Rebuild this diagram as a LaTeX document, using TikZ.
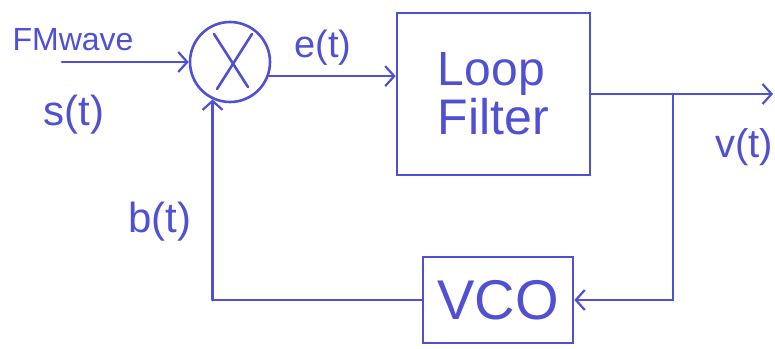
\documentclass[tikz,border=0pt]{standalone}
\usepackage{fontspec}
\setmainfont{Liberation Sans}
\usetikzlibrary{arrows.meta}
\definecolor{pen}{RGB}{80,80,210}
\tikzset{
  wire/.style={draw=pen, line width=2.6pt, line cap=round, line join=round},
  arr/.style={wire, -{Straight Barb[length=9pt, width=20pt, line width=2.2pt]}},
  blk/.style={draw=pen, line width=2.6pt, rectangle, inner sep=0pt, text=pen},
  lbl/.style={text=pen, inner sep=0pt},
}
\begin{document}
\begin{tikzpicture}[x=1pt, y=-1pt]
\useasboundingbox (0,0) rectangle (775,348);
% blocks
\node[draw=pen, line width=2.6pt, circle, minimum size=80pt, inner sep=0pt] (mult) at (230,62) {};
\draw[wire] ([shift={(-16,-28)}]mult.center) -- ([shift={(18,25)}]mult.center)
            ([shift={(22,-28)}]mult.center) -- ([shift={(-13,27)}]mult.center);
\node[blk, minimum width=193pt, minimum height=162pt, align=left] (lf) at (493.5,94)
  {\fontsize{48}{56}\selectfont Loop\\[2pt]\fontsize{50}{56}\selectfont Filter};
\node[blk, minimum width=150pt, minimum height=86pt] (vco) at (498,300)
  {\fontsize{56}{56}\selectfont VCO};
% coordinates
\coordinate (in) at (62,62);
\coordinate (out) at (773,94);
\coordinate (j) at (673,94);
\coordinate (cr) at (673,300);
\coordinate (bl) at (mult.-115 |- vco.west);
% connectors
\draw[arr] (in) -- (mult.west);
\draw[arr] (mult.-20) -- (mult.-20 -| lf.west);
\draw[arr] (lf.east) -- (out);
\draw[wire] (j) -- (cr);
\draw[arr] (cr) -- (vco.east);
\draw[wire] (vco.west) -- (bl);
\draw[arr] (bl) -- (mult.-115);
% labels
\node[lbl, font=\fontsize{32}{32}\selectfont] (fm) at (73,40) {FMwave};
\node[lbl, font=\fontsize{42}{42}\selectfont] (s) at (74,115) {s(t)};
\node[lbl, font=\fontsize{38}{38}\selectfont] (e) at (323,48) {e(t)};
\node[lbl, font=\fontsize{42}{42}\selectfont] (b) at (160,222) {b(t)};
\node[lbl, font=\fontsize{40}{40}\selectfont] (v) at (744,147) {v(t)};
\end{tikzpicture}
\end{document}
